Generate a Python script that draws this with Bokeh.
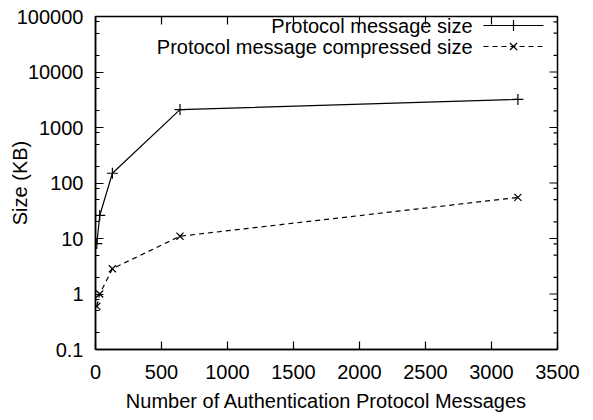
import math

from bokeh.plotting import figure
from bokeh.models import FixedTicker, Range1d
from bokeh.core.properties import value
from bokeh.embed import file_html
from bokeh.resources import INLINE

# Message counts and sizes (KB)
messages = [10, 32, 128, 640, 3200]
size_plain = [8.1, 26, 150, 2100, 3200]
size_compressed = [0.6, 1.0, 2.85, 11, 55]

x_ticks = [0, 500, 1000, 1500, 2000, 2500, 3000, 3500]
y_ticks = [0.1, 1, 10, 100, 1000, 10000, 100000]
y_tick_labels = {0.1: "0.1", 1: "1", 10: "10", 100: "100", 1000: "1000",
                 10000: "10000", 100000: "100000"}
y_minor = [m * d for d in [0.1, 1, 10, 100, 1000, 10000] for m in (2, 5, 8)]

label_series = ["Protocol message size", "Protocol message compressed size"]

FONT = "Liberation Sans"
FS = "20px"

X0, X1 = 0, 3500
Y0, Y1 = 0.1, 100000
LEFT, RIGHT, TOP, BOTTOM = 95, 36, 16, 71
W, H = 593, 420

p = figure(width=W, height=H, y_axis_type="log",
           x_range=Range1d(X0, X1), y_range=Range1d(Y0, Y1),
           output_backend="svg", toolbar_location=None,
           min_border_left=LEFT, min_border_right=RIGHT,
           min_border_top=TOP, min_border_bottom=BOTTOM)
p.grid.visible = False
p.outline_line_color = "black"
p.outline_line_width = 1.5
p.background_fill_color = "white"
p.border_fill_color = "white"

frame_w = W - LEFT - RIGHT
frame_h = H - TOP - BOTTOM


def px_x(px):
    return X0 + (px - LEFT) / frame_w * (X1 - X0)


def px_y(py):
    lo, hi = math.log10(Y0), math.log10(Y1)
    return 10 ** (hi - (py - TOP) / frame_h * (hi - lo))


def style_axis(ax):
    ax.axis_line_color = "black"
    ax.axis_line_width = 1.5
    ax.major_tick_in = 8
    ax.major_tick_out = 0
    ax.minor_tick_in = 4
    ax.minor_tick_out = 0
    ax.major_tick_line_width = 1.2
    ax.minor_tick_line_width = 1.2
    ax.major_label_text_font = FONT
    ax.major_label_text_font_size = FS
    ax.major_label_text_color = "black"
    ax.axis_label_text_font = FONT
    ax.axis_label_text_font_size = FS
    ax.axis_label_text_font_style = "normal"
    ax.axis_label_text_color = "black"


xb = p.xaxis[0]
xb.ticker = FixedTicker(ticks=x_ticks, minor_ticks=[])
style_axis(xb)
xb.major_label_standoff = 15
xb.axis_label = "Number of Authentication Protocol Messages"
xb.axis_label_standoff = 8

yl = p.yaxis[0]
yl.ticker = FixedTicker(ticks=y_ticks, minor_ticks=y_minor)
yl.major_label_overrides = y_tick_labels
style_axis(yl)
yl.major_label_standoff = 12
yl.axis_label = "Size (KB)"
yl.axis_label_standoff = -17

# Mirrored inward ticks on the top and right borders
top_tick_end = px_y(TOP + 8)
p.segment(x0=x_ticks, y0=[Y1] * len(x_ticks), x1=x_ticks,
          y1=[top_tick_end] * len(x_ticks), line_color="black",
          line_width=1.2)
right_major_end = px_x(W - RIGHT - 8)
right_minor_end = px_x(W - RIGHT - 4)
p.segment(x0=[X1] * len(y_ticks), y0=y_ticks,
          x1=[right_major_end] * len(y_ticks), y1=y_ticks,
          line_color="black", line_width=1.2)
p.segment(x0=[X1] * len(y_minor), y0=y_minor,
          x1=[right_minor_end] * len(y_minor), y1=y_minor,
          line_color="black", line_width=1.2)

# Data series
p.line(messages, size_plain, line_color="black", line_width=1.2)
p.scatter(messages, size_plain, marker="cross", size=11,
          line_color="black", line_width=1.2)
p.line(messages, size_compressed, line_color="black", line_width=1.2,
       line_dash="5 4")
p.scatter(messages, size_compressed, marker="x", size=10,
          line_color="black", line_width=1.2)

# Key in the top-right corner: text right-aligned, sample to its right
rows = [25, 46]
dashes = ["solid", "5 4"]
markers = ["cross", "x"]
for name, py, dash, mk in zip(label_series, rows, dashes, markers):
    p.text([px_x(472)], [px_y(py)], text=[name], text_align="right",
           text_baseline="middle", text_font=value(FONT),
           text_font_size=FS, text_color="black")
    p.line([px_x(483), px_x(543)], [px_y(py), px_y(py)], line_color="black",
           line_width=1.2, line_dash=dash)
    p.scatter([px_x(513)], [px_y(py)], marker=mk,
              size=10 if mk == "x" else 11,
              line_color="black", line_width=1.2)

open("out.html", "w").write(file_html(p, INLINE))
